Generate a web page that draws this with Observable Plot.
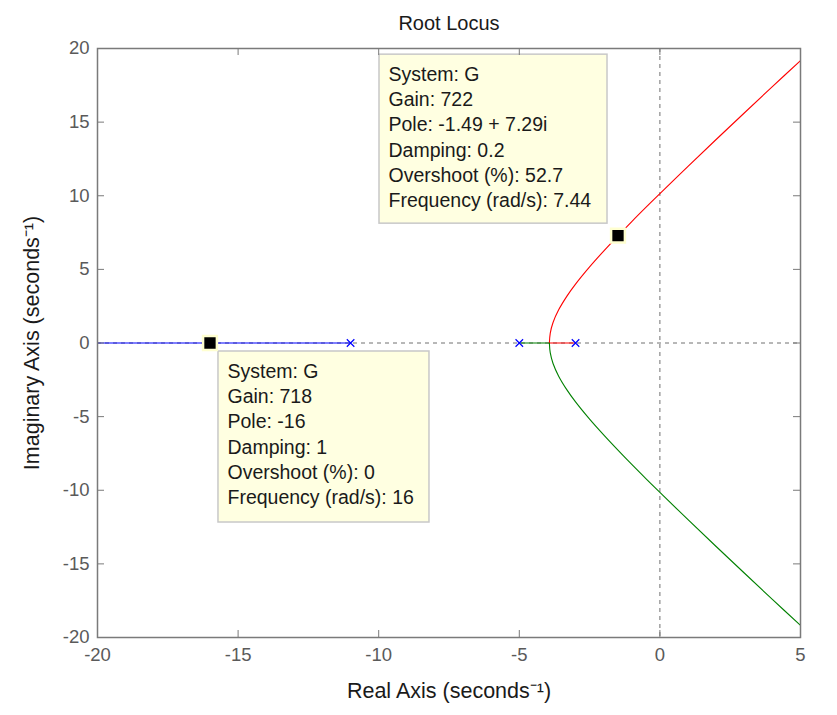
<!DOCTYPE html>
<html><head><meta charset="utf-8">
<script src="https://cdn.jsdelivr.net/npm/d3@7"></script>
<script src="https://cdn.jsdelivr.net/npm/@observablehq/plot@0.6"></script>
<style>body{margin:0;background:#fff;}</style>
</head><body><div id="chart"></div>
<script>
// ---- data ----
const poles = [-11, -5, -3];
const xTicks = [-20, -15, -10, -5, 0, 5];
const yTicks = [-20, -15, -10, -5, 0, 5, 10, 15, 20];
// red branch: pole -3 -> breakaway -> upper half plane
const redRealRe = [-3, -3.93];
const upperRe = [-3.93, -3.9, -3.8, -3.6, -3.3, -3, -2.5, -2, -1.5, -1, -0.5, 0, 1, 2, 3, 4, 5];
const upperIm = [0, 0.66, 1.39, 2.25, 3.2, 4, 5.17, 6.24, 7.26, 8.25, 9.21, 10.15, 12, 13.82, 15.62, 17.41, 19.18];
// green branch: pole -5 -> breakaway -> lower half plane
const greenRealRe = [-5, -3.93];
const lowerRe = [-3.93, -3.9, -3.8, -3.6, -3.3, -3, -2.5, -2, -1.5, -1, -0.5, 0, 1, 2, 3, 4, 5];
const lowerIm = [0, -0.66, -1.39, -2.25, -3.2, -4, -5.17, -6.24, -7.26, -8.25, -9.21, -10.15, -12, -13.82, -15.62, -17.41, -19.18];
// blue branch: pole -11 -> -inf
const blueRe = [-11, -20];
// data tips
const tipRe = [-1.49, -16];
const tipIm = [7.29, 0];
const tipText = [
  "System: G\nGain: 722\nPole: -1.49 + 7.29i\nDamping: 0.2\nOvershoot (%): 52.7\nFrequency (rad/s): 7.44",
  "System: G\nGain: 718\nPole: -16\nDamping: 1\nOvershoot (%): 0\nFrequency (rad/s): 16"
];

// ---- layout ----
const W = 837, H = 715, mL = 97, mR = 37, mT = 48, mB = 78;
const pw = W - mL - mR, ph = H - mT - mB;
const kx = 25 / pw, ky = 40 / ph; // data units per pixel
// tip box offsets (pixels relative to anchor): [left, right, top, bottom]
const tipBox = [[-238.5, -10.5, -181, -12], [8.5, 219.5, 8.5, 179.5]];

const tips = tipRe.map((x, i) => ({
  x, y: tipIm[i], text: tipText[i],
  x1: x + tipBox[i][0] * kx, x2: x + tipBox[i][1] * kx,
  y1: tipIm[i] - tipBox[i][2] * ky, y2: tipIm[i] - tipBox[i][3] * ky
}));

const pts = (re, im) => re.map((x, i) => ({x, y: im ? im[i] : 0}));

const font = "Liberation Sans, Arial, sans-serif";
const tickCol = "#5a5a5a";
const frameCol = "#7a7a7a";

const chart = Plot.plot({
  width: W, height: H,
  marginLeft: mL, marginRight: mR, marginTop: mT, marginBottom: mB,
  style: {fontFamily: font, background: "#fff"},
  x: {domain: [-20, 5]},
  y: {domain: [-20, 20]},
  marks: [
    Plot.ruleY([0], {stroke: "#707070", strokeDasharray: "4,4"}),
    Plot.ruleX([0], {stroke: "#707070", strokeDasharray: "4,4"}),
    Plot.line(pts(blueRe), {x: "x", y: "y", stroke: "#0000ff", strokeWidth: 1.2}),
    Plot.line(pts(redRealRe), {x: "x", y: "y", stroke: "#ff0000", strokeWidth: 1.2}),
    Plot.line(pts(greenRealRe), {x: "x", y: "y", stroke: "#008000", strokeWidth: 1.2}),
    Plot.line(pts(upperRe, upperIm), {x: "x", y: "y", stroke: "#ff0000", strokeWidth: 1.1, curve: "catmull-rom"}),
    Plot.line(pts(lowerRe, lowerIm), {x: "x", y: "y", stroke: "#008000", strokeWidth: 1.1, curve: "catmull-rom"}),
    Plot.dot(poles, {x: d => d, y: 0, symbol: "times", stroke: "#0000ff", r: 3.5, strokeWidth: 1.2}),
    Plot.rect(tips, {x1: "x1", x2: "x2", y1: "y1", y2: "y2", fill: "#ffffe1", stroke: "#c8c8c8", strokeWidth: 1.5}),
    Plot.text(tips, {x: "x1", y: "y1", text: "text", dx: 9, dy: 8, textAnchor: "start", lineAnchor: "top",
      fontSize: 19.5, lineHeight: 1.3, fill: "#1a1a1a"}),
    Plot.dot(tips, {x: "x", y: "y", symbol: "square", fill: "#000", stroke: "#ffffd0", strokeWidth: 2.5, r: 7.8}),
    // inside ticks
    Plot.ruleX(xTicks, {stroke: frameCol, insetTop: ph - 7}),
    Plot.ruleX(xTicks, {stroke: frameCol, insetBottom: ph - 7}),
    Plot.ruleY(yTicks, {stroke: frameCol, insetRight: pw - 7}),
    Plot.ruleY(yTicks, {stroke: frameCol, insetLeft: pw - 7}),
    Plot.axisX(xTicks, {tickSize: 0, tickPadding: 10, fontSize: 18.5, fill: tickCol, label: null, tickFormat: d => String(d)}),
    Plot.axisY(yTicks, {tickSize: 0, tickPadding: 8, fontSize: 18.5, fill: tickCol, label: null, tickFormat: d => String(d)}),
    Plot.frame({stroke: frameCol, strokeWidth: 1.5}),
    Plot.text(["Root Locus"], {frameAnchor: "top", dy: -33, fontSize: 20, fill: "#1a1a1a"}),
    Plot.text(["Real Axis (seconds\u207B\u00B9)"], {frameAnchor: "bottom", dy: 60, fontSize: 21.5, fill: "#1a1a1a"}),
    Plot.text(["Imaginary Axis (seconds\u207B\u00B9)"], {frameAnchor: "left", textAnchor: "middle", dx: -65, rotate: -90, fontSize: 21.5, fill: "#1a1a1a"})
  ]
});
document.getElementById("chart").appendChild(chart);
</script>
</body></html>
